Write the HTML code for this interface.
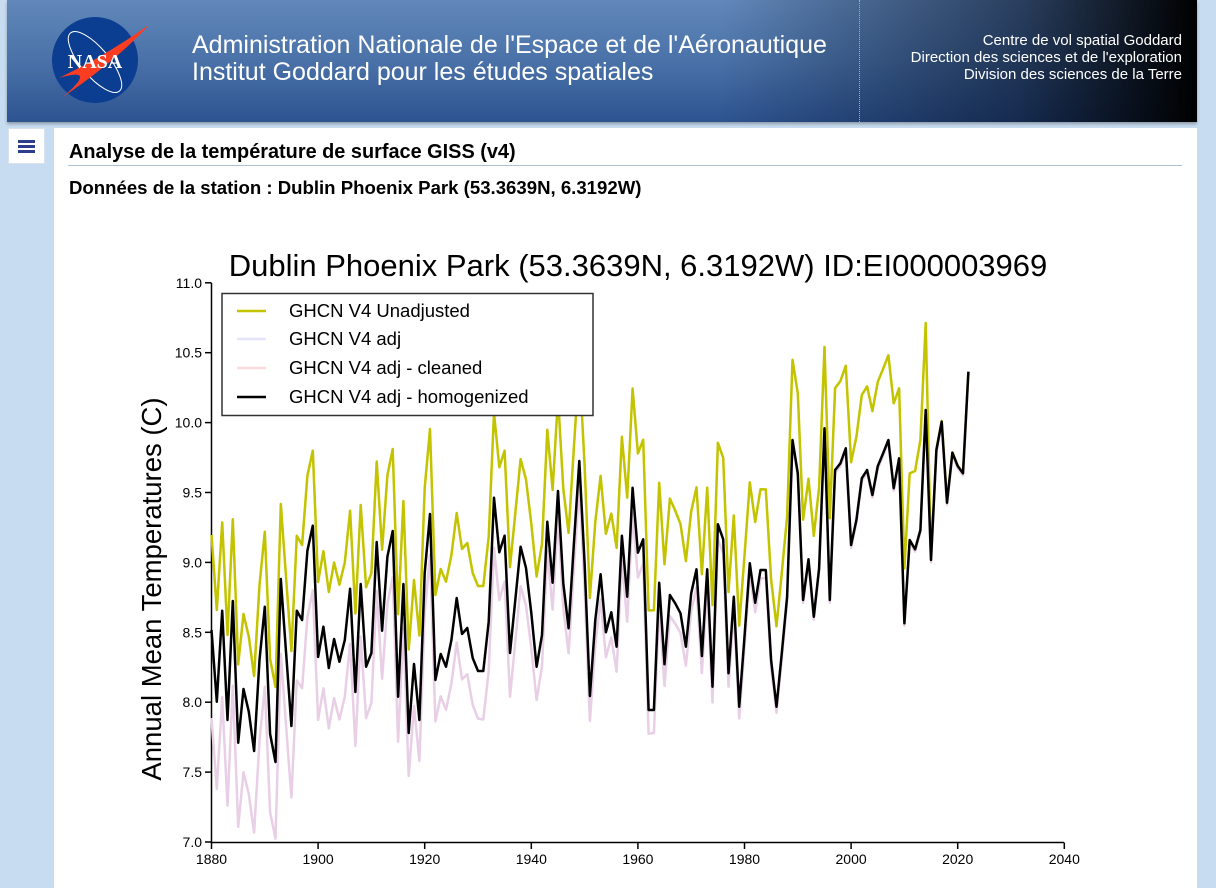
<!DOCTYPE html>
<html><head><meta charset="utf-8"><style>
html,body{margin:0;padding:0;width:1216px;height:877px;overflow:hidden;background:#c8dcf1;font-family:"Liberation Sans",sans-serif}
#banner{position:absolute;left:7px;top:0;width:1190px;height:122px;background:linear-gradient(90deg,rgba(0,0,0,0) 0%,rgba(0,0,0,0) 60%,rgba(5,15,35,.6) 85%,#000 100%),linear-gradient(180deg,#6288ba 0%,#4a72a8 50%,#2d5390 100%);box-shadow:0 2px 3px rgba(0,0,0,.3)}
#sep{position:absolute;left:852px;top:0;height:122px;border-left:1px dotted #8fb0e0}
.t1{position:absolute;left:185px;top:32px;color:#fff;font-size:25px;line-height:27px}
.t2{position:absolute;right:15px;top:32px;color:#fff;font-size:15px;line-height:17px;text-align:right}
#ham{position:absolute;left:8px;top:128px;width:35px;height:34px;background:#fff;border:1px solid #d8e2ee}
#ham i{position:absolute;left:9px;width:17px;height:2.5px;background:#2c3e8c}
#panel{position:absolute;left:53px;top:128px;width:1143px;height:760px;background:#fff;border-left:1px solid #d0d8e4}
h1{position:absolute;left:15px;top:13px;margin:0;font-size:19.9px;font-weight:bold;color:#000}
#hr{position:absolute;left:14px;top:37px;width:1114px;border-top:1px solid #aec2d4}
h2{position:absolute;left:15px;top:49px;margin:0;font-size:18.6px;font-weight:bold;color:#000}
svg{position:absolute;left:0;top:0}
</style></head><body>
<div id="banner">
 <svg width="140" height="122" style="left:0;top:0">
  <circle cx="88" cy="60" r="43" fill="#0b3d91"/>
  <ellipse cx="88" cy="62" rx="38" ry="14" fill="none" stroke="#fff" stroke-width="1" transform="rotate(50 88 62)"/>
  <path d="M52 78 Q100 55 143 24 Q110 60 56 97 Q92 66 52 78Z" fill="#fc3d21"/>
  <text x="88" y="68" fill="#fff" font-size="20" font-weight="bold" text-anchor="middle" font-family="Liberation Serif">NASA</text>
 </svg>
 <div id="sep"></div>
 <div class="t1">Administration Nationale de l'Espace et de l'Aéronautique<br>Institut Goddard pour les études spatiales</div>
 <div class="t2">Centre de vol spatial Goddard<br>Direction des sciences et de l'exploration<br>Division des sciences de la Terre</div>
</div>
<div id="ham"><i style="top:11px"></i><i style="top:16px"></i><i style="top:21px"></i></div>
<div id="panel">
<h1>Analyse de la température de surface GISS (v4)</h1>
<div id="hr"></div>
<h2>Données de la station : Dublin Phoenix Park (53.3639N, 6.3192W)</h2>
</div>
<svg id="ch" width="1216" height="877" font-family="Liberation Sans, sans-serif">
 <text x="638" y="276" font-size="31" text-anchor="middle">Dublin Phoenix Park (53.3639N, 6.3192W) ID:EI000003969</text>
 <text transform="translate(161,589) rotate(-90)" font-size="27.5" text-anchor="middle">Annual Mean Temperatures (C)</text>
 <g id="ax" stroke="#000" stroke-width="1.5" fill="none"></g>
 <g id="lbl" font-size="14" fill="#000"></g>
 <g id="ser" fill="none" stroke-linejoin="round"></g>
 <rect x="222" y="293.5" width="371" height="122" fill="#fff" stroke="#333" stroke-width="1.5"/>
 <g stroke-width="2.5">
  <line x1="237" y1="311" x2="266" y2="311" stroke="#c3c300"/>
  <line x1="237" y1="339" x2="266" y2="339" stroke="#e4e4fa"/>
  <line x1="237" y1="368" x2="266" y2="368" stroke="#fadcdc"/>
  <line x1="237" y1="397" x2="266" y2="397" stroke="#000"/>
 </g>
 <g font-size="18.5" fill="#000">
  <text x="289" y="317">GHCN V4 Unadjusted</text>
  <text x="289" y="345">GHCN V4 adj</text>
  <text x="289" y="374">GHCN V4 adj - cleaned</text>
  <text x="289" y="403">GHCN V4 adj - homogenized</text>
 </g>
</svg>
<script>
var ax=document.getElementById('ax'),lb=document.getElementById('lbl'),NS='http://www.w3.org/2000/svg';
function el(p,t,a,txt){var e=document.createElementNS(NS,t);for(var k in a)e.setAttribute(k,a[k]);if(txt)e.textContent=txt;p.appendChild(e);return e}
el(ax,'path',{d:'M211.5 283V842.5H1064'});
for(var i=0;i<=8;i++){var v=7+i*0.5,y=842-i*69.9;el(ax,'line',{x1:205,y1:y,x2:211.5,y2:y});el(lb,'text',{x:202,y:y+5,'text-anchor':'end'},v.toFixed(1))}
for(var i=0;i<=8;i++){var x=211.5+i*106.6;el(ax,'line',{x1:x,y1:842.5,x2:x,y2:849});el(lb,'text',{x:x,y:864,'text-anchor':'middle'},String(1880+i*20))}
var b=[630,701.7,610.7,720,601,742.7,689,711.7,751,660,606.7,734,762,579,653,726,610.7,620,550.7,525.7,657,626.7,668,639,661.7,640,588.7,692,584,666.7,653,542,630.7,556.7,531,696.7,584,733,664,720,573,514,680,654,666.7,640,598,634,628,658,671,671,621.7,497.7,552.3,535.7,653,600,546.7,568,613,666.7,635,521.7,582.7,491,583.3,628.3,543.3,461,563.3,696,620,574.3,632.3,612.3,646.7,535.7,596.7,487.7,552.7,539.3,710,710,582.7,664.3,595,603.3,613.3,646.7,593.3,569.3,656,569.3,686.7,524.3,539.3,673.3,596.7,706.7,636.7,563.3,602.7,570,570,660,706.7,653,596.7,440,473.3,600,559.3,616.7,568.3,428.3,600,470,463.3,448.3,545,520,478.3,470,495,466,453.3,440,488.3,458.3,623.3,540,549.3,530,410,560,450,421.7,502.7,452.7,466,473.3,371.7];
function X(i){return 211.5+i*5.33}
function lerp(pts,yr){for(var k=0;k<pts.length-1;k++){if(yr<=pts[k+1][0]){var a=pts[k],c=pts[k+1],t=(yr-a[0])/(c[0]-a[0]);return a[1]+t*(c[1]-a[1])}}return pts[pts.length-1][1]}
var yo=[[1880,95],[1886,75],[1900,75],[1920,85],[1935,85],[1950,98],[1965,100],[1970,82],[1990,80],[2008,85],[2010,55],[2013,90],[2014,87],[2015,1],[2022,0]];
var po=[[1880,88],[1890,80],[1900,63],[1910,50],[1920,40],[1933,50],[1945,25],[1960,25],[1975,15],[1990,3],[2022,2]];
var pk=[],yl=[],bk=[];
for(var i=0;i<b.length;i++){var yr=1880+i;bk.push(X(i).toFixed(1)+','+b[i]);pk.push(X(i).toFixed(1)+','+(b[i]+lerp(po,yr)).toFixed(1));yl.push(X(i).toFixed(1)+','+(b[i]-lerp(yo,yr)).toFixed(1))}
var s=document.getElementById('ser');
el(s,'polyline',{points:yl.join(' '),stroke:'#c3c300','stroke-width':2.5});
el(s,'polyline',{points:pk.join(' '),stroke:'#e8cfe6','stroke-width':2.5});
el(s,'polyline',{points:bk.join(' '),stroke:'#000','stroke-width':2.5});
</script>
</body></html>
